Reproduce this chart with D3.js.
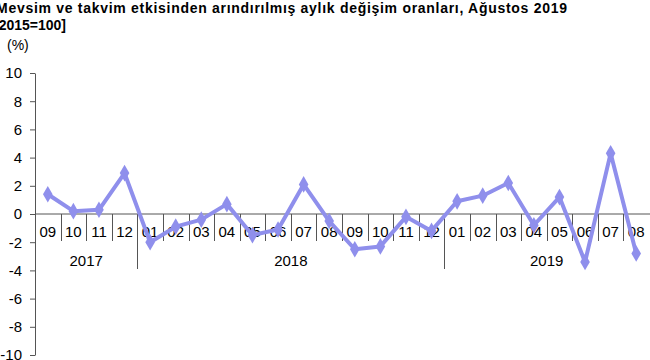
<!DOCTYPE html>
<html>
<head>
<meta charset="utf-8">
<script src="https://cdn.jsdelivr.net/npm/d3@7"></script>
<style>
body { margin: 0; background: #fff; }
text { font-family: "Liberation Sans", Arial, sans-serif; }
</style>
</head>
<body>
<div id="chart"></div>
<script>
var months = ["09","10","11","12","01","02","03","04","05","06","07","08",
              "09","10","11","12","01","02","03","04","05","06","07","08"];
var years = ["2017","2017","2017","2017","2018","2018","2018","2018","2018","2018","2018","2018",
             "2018","2018","2018","2018","2019","2019","2019","2019","2019","2019","2019","2019"];
var values = [1.4, 0.2, 0.3, 2.9, -2.0, -0.9, -0.4, 0.7, -1.5, -1.1, 2.1, -0.5,
              -2.5, -2.3, -0.2, -1.2, 0.9, 1.3, 2.2, -0.8, 1.2, -3.4, 4.3, -2.8];
var yTicks = [-10, -8, -6, -4, -2, 0, 2, 4, 6, 8, 10];

var width = 650, height = 360;
var data = months.map(function(m, i) { return {key: years[i] + "-" + m, month: m, year: years[i], value: values[i]}; });

var svg = d3.select("#chart").append("svg")
	.attr("width", width)
	.attr("height", height);

// title (left edge is clipped in the original too)
svg.append("text").attr("x", -4).attr("y", 13)
	.style("font-size", "14px").style("font-weight", "bold")
	.attr("textLength", 571).attr("lengthAdjust", "spacing")
	.text("Mevsim ve takvim etkisinden arındırılmış aylık değişim oranları, Ağustos 2019");
svg.append("text").attr("x", -6).attr("y", 30)
	.style("font-size", "14px").style("font-weight", "bold")
	.text("[2015=100]");
svg.append("text").attr("x", 7).attr("y", 50)
	.style("font-size", "14px")
	.text("(%)");

var x = d3.scaleBand()
	.domain(data.map(function(d) { return d.key; }))
	.range([35, 649]);

var y = d3.scaleLinear()
	.domain([-10, 10])
	.range([355, 73]);

var axisColor = "#555";

// y axis
var yAxis = svg.append("g")
	.attr("transform", "translate(35,0)")
	.call(d3.axisLeft(y).tickValues(yTicks).tickSize(5).tickSizeOuter(0).tickFormat(d3.format("d")));
yAxis.select(".domain").attr("stroke", axisColor);
yAxis.selectAll(".tick line").attr("stroke", axisColor);
yAxis.selectAll(".tick text")
	.attr("x", -13)
	.style("font-size", "15px")
	.style("font-family", "Liberation Sans, Arial, sans-serif")
	.attr("fill", "#000")
	.text(function(d) { return d < 0 ? "-" + Math.abs(d) : d; });

// x axis line at zero
svg.append("line")
	.attr("x1", 35).attr("x2", width)
	.attr("y1", y(0)).attr("y2", y(0))
	.attr("stroke", axisColor);

// category separators, longer ones between years
var seps = d3.range(1, data.length);
svg.selectAll(".sep")
	.data(seps)
	.enter()
	.append("line")
		.attr("x1", function(i) { return Math.round(x(data[i].key)) + 0.5; })
		.attr("x2", function(i) { return Math.round(x(data[i].key)) + 0.5; })
		.attr("y1", y(0))
		.attr("y2", function(i) { return data[i].year !== data[i - 1].year ? y(0) + 55 : y(0) + 27; })
		.attr("stroke", axisColor);

// month labels
svg.selectAll(".mlab")
	.data(data)
	.enter()
	.append("text")
		.attr("x", function(d) { return x(d.key) + x.bandwidth() / 2; })
		.attr("y", y(0) + 23)
		.attr("text-anchor", "middle")
		.style("font-size", "15px")
		.text(function(d) { return d.month; });

// year labels
var yearGroups = d3.groups(data, function(d) { return d.year; });
svg.selectAll(".ylab")
	.data(yearGroups)
	.enter()
	.append("text")
		.attr("x", function(g) {
			var first = g[1][0], last = g[1][g[1].length - 1];
			return (x(first.key) + x(last.key) + x.bandwidth()) / 2;
		})
		.attr("y", y(0) + 52)
		.attr("text-anchor", "middle")
		.style("font-size", "15px")
		.text(function(g) { return g[0]; });

// line
var lineColor = "#8f8fec";
var line = d3.line()
	.x(function(d) { return x(d.key) + x.bandwidth() / 2; })
	.y(function(d) { return y(d.value); });

svg.append("path")
	.datum(data)
	.attr("fill", "none")
	.attr("stroke", lineColor)
	.attr("stroke-width", 4)
	.attr("stroke-linejoin", "round")
	.attr("d", line);

svg.selectAll(".marker")
	.data(data)
	.enter()
	.append("path")
		.attr("d", d3.symbol().type(d3.symbolDiamond).size(80))
		.attr("transform", function(d) { return "translate(" + (x(d.key) + x.bandwidth() / 2) + "," + y(d.value) + ")"; })
		.attr("fill", lineColor);
</script>
</body>
</html>
